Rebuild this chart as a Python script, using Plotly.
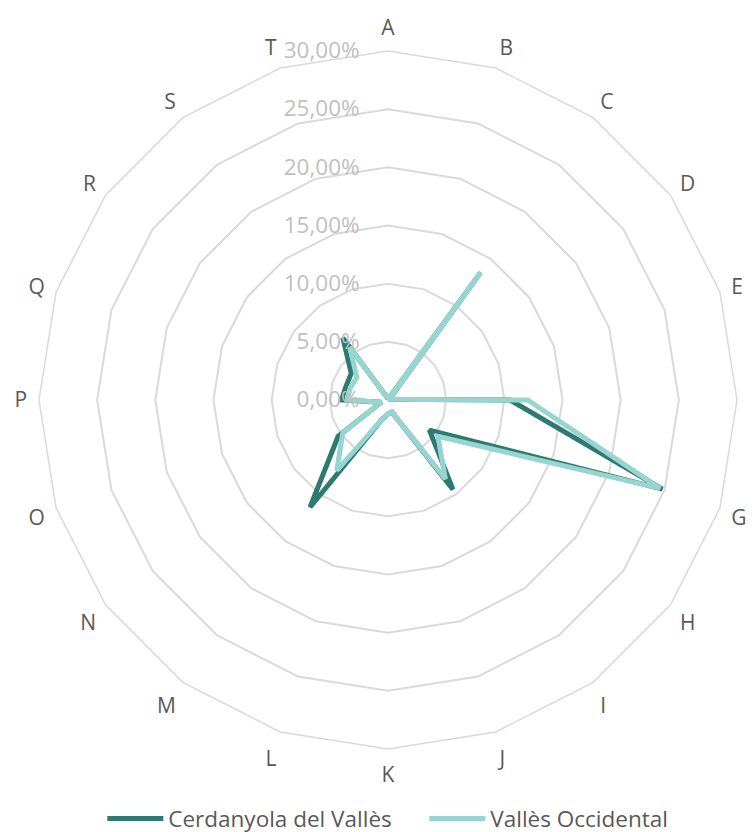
import plotly.graph_objects as go

categories = list("ABCDEFGHIJKLMNOPQRST")
cerdanyola = [0.1, 0.1, 13.4, 0.2, 0.2, 10.5, 24.8, 4.4, 9.5, 1.1, 1.2, 1.8, 11.4, 5.3, 0.6, 4.0, 3.8, 3.9, 6.6, 0.2]
valles = [0.1, 0.1, 13.6, 0.2, 0.2, 12.0, 24.6, 5.3, 8.4, 1.1, 1.2, 1.8, 7.5, 4.8, 0.6, 3.5, 3.4, 3.3, 5.6, 0.2]
series_names = ["Cerdanyola del Vallès", "Vallès Occidental"]
colors = ["#2e7a73", "#96d5d0"]
radial_ticks = [0, 0.05, 0.10, 0.15, 0.20, 0.25, 0.30]

fig = go.Figure()
for name, vals, col in zip(series_names, [cerdanyola, valles], colors):
    v = [x / 100 for x in vals]
    fig.add_trace(go.Scatterpolar(
        r=v + [v[0]], theta=categories + [categories[0]],
        mode="lines", name=name,
        line=dict(color=col, width=5),
    ))

# page body has an 8px default margin -> figure is 748x824 offset by 8px
fig.update_layout(
    width=748, height=824,
    margin=dict(l=31, r=19, t=43, b=83, autoexpand=False),
    paper_bgcolor="white", plot_bgcolor="white",
    separators=",.",
    font=dict(family="Open Sans, Arial, sans-serif", color="#595959"),
    polar=dict(
        bgcolor="white",
        gridshape="linear",
        domain=dict(x=[0, 1], y=[0, 1]),
        angularaxis=dict(
            direction="clockwise", rotation=90,
            showgrid=False, showline=True, linecolor="#d9d9d9", linewidth=1.5,
            ticks="outside", ticklen=7, tickcolor="rgba(0,0,0,0)",
            tickfont=dict(size=21, color="#595959"),
        ),
        radialaxis=dict(
            range=[0, 0.30], tickvals=radial_ticks, tickformat=".2%",
            angle=90, tickangle=90, side="counterclockwise",
            showline=False, ticks="outside", ticklen=20, tickcolor="rgba(0,0,0,0)",
            gridcolor="#d9d9d9", gridwidth=1.5,
            tickfont=dict(size=22.5, color="#bfbfbf"),
        ),
    ),
    legend=dict(
        orientation="h", x=0.552, xanchor="center", y=-0.100, yanchor="middle",
        font=dict(size=22.5, color="#595959"), itemwidth=56,
        entrywidth=251, entrywidthmode="pixels",
    ),
    showlegend=True,
)

fig.write_html("out.html")
